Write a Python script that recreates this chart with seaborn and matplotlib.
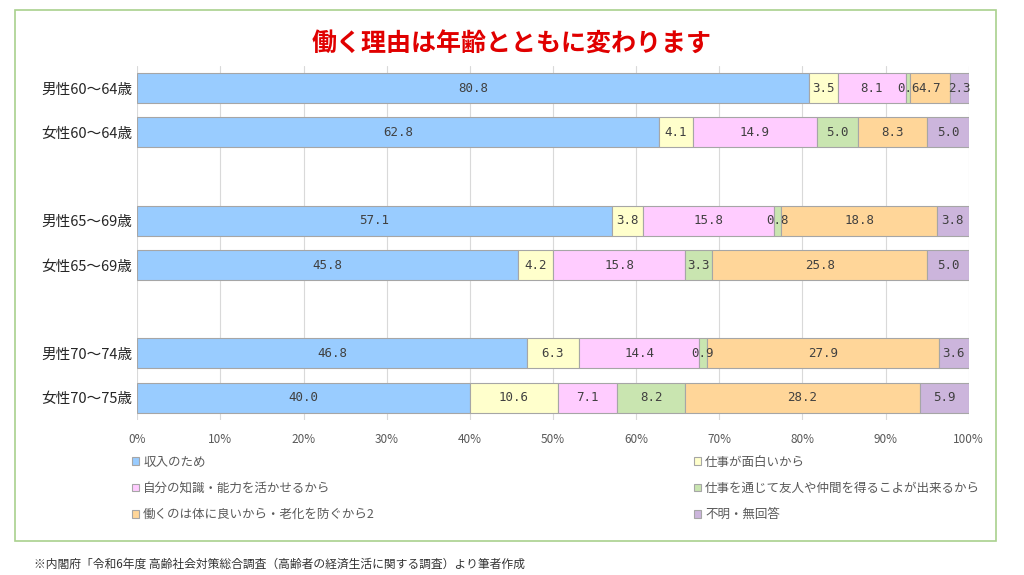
"""Stacked bar chart: reasons for working by age group."""

import matplotlib

matplotlib.use("Agg")
import matplotlib.pyplot as plt
from matplotlib.patches import Rectangle
import numpy as np
import seaborn as sns

sns.set_theme(style="white")
plt.rcParams["font.family"] = ["Noto Sans CJK JP", "DejaVu Sans"]

groups = ["男性60～64歳", "女性60～64歳", "", "男性65～69歳", "女性65～69歳", " ",
          "男性70～74歳", "女性70～75歳"]
reasons = ["収入のため", "仕事が面白いから", "自分の知識・能力を活かせるから",
           "仕事を通じて友人や仲間を得るこよが出来るから",
           "働くのは体に良いから・老化を防ぐから2", "不明・無回答"]
income = [80.8, 62.8, None, 57.1, 45.8, None, 46.8, 40.0]
interest = [3.5, 4.1, None, 3.8, 4.2, None, 6.3, 10.6]
skills = [8.1, 14.9, None, 15.8, 15.8, None, 14.4, 7.1]
friends = [0.6, 5.0, None, 0.8, 3.3, None, 0.9, 8.2]
health = [4.7, 8.3, None, 18.8, 25.8, None, 27.9, 28.2]
unknown = [2.3, 5.0, None, 3.8, 5.0, None, 3.6, 5.9]
colors = ["#99CCFF", "#FFFFCC", "#FFCCFF", "#C9E5B0", "#FFD699", "#CCB5DC"]

series = [income, interest, skills, friends, health, unknown]
vals = np.array([[np.nan if v is None else v for v in s] for s in series])
shares = vals / np.nansum(vals, axis=0) * 100

fig = plt.figure(figsize=(10.24, 5.75), dpi=100)
fig.patches.append(Rectangle((0.015, 0.06), 0.958, 0.923, transform=fig.transFigure,
                             fill=False, edgecolor="#A9D18E", linewidth=1.2))
ax = fig.add_axes([0.134, 0.27, 0.812, 0.615])
left = np.zeros(len(groups))
for i, (name, col) in enumerate(zip(reasons, colors)):
    w = np.nan_to_num(shares[i])
    sns.barplot(x=w, y=groups, left=left, color=col, orient="h", ax=ax, saturation=1,
                width=0.68, edgecolor="#A6A6A6", linewidth=0.8, label=name)
    for j, v in enumerate(vals[i]):
        if not np.isnan(v):
            ax.text(left[j] + w[j] / 2, j, f"{v:.1f}", ha="center", va="center",
                    fontsize=9, color="#404040", family="DejaVu Sans Mono")
    left += w

# hide the empty spacer rows
for p in list(ax.patches):
    if p.get_width() == 0:
        p.set_visible(False)

ax.set_xlim(0, 100)
ax.set_xticks(np.arange(0, 101, 10))
ax.set_xticklabels([f"{t}%" for t in range(0, 101, 10)], fontsize=8.5, color="#595959")
ax.tick_params(axis="y", labelsize=10.5, length=0)
ax.grid(axis="x", color="#D9D9D9", linewidth=0.8)
ax.set_axisbelow(True)
for s in ax.spines.values():
    s.set_visible(False)
ax.set_xlabel("")
ax.set_ylabel("")

handles, labels = ax.get_legend_handles_labels()
order = [0, 2, 4, 1, 3, 5]
ax.legend([handles[k] for k in order], [labels[k] for k in order], ncol=2,
          loc="upper left", bbox_to_anchor=(-0.02, -0.07), frameon=False,
          fontsize=9, handlelength=0.6, handleheight=0.6, handletextpad=0.3,
          columnspacing=25.5, labelspacing=1.05, labelcolor="#595959")
fig.text(0.5, 0.922, "働く理由は年齢とともに変わります", ha="center", va="center",
         fontsize=18, color="#E00000", fontweight="bold")
fig.text(0.033, 0.012, "※内閣府「令和6年度 高齢社会対策総合調査（高齢者の経済生活に関する調査）より筆者作成",
         fontsize=8.5, color="#333333")
fig.savefig("out.png", dpi=100)
plt.close(fig)
